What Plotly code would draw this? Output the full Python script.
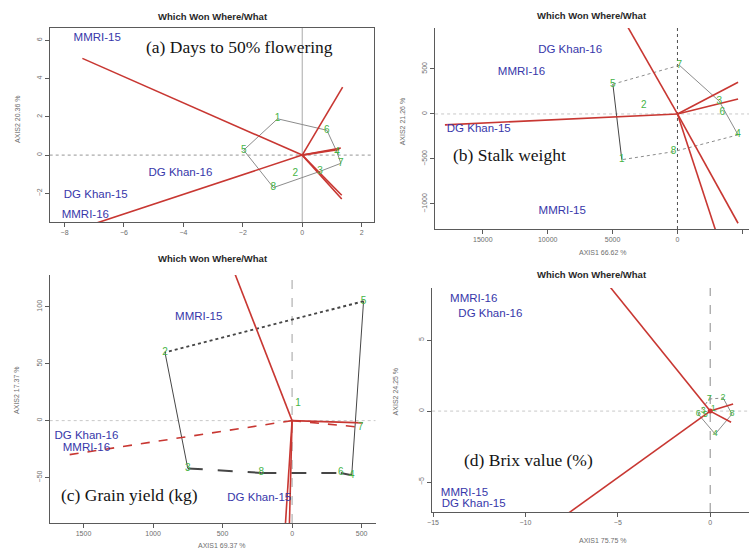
import plotly.graph_objects as go

W, H = 749, 557

# ---------------- data ----------------
genotypes = ["1", "2", "3", "4", "5", "6", "7", "8"]

# (a) Days to 50% flowering
a_gx = [-0.83, -0.23, 0.60, 1.17, -1.97, 0.83, 1.30, -0.97]
a_gy = [1.90, -0.95, -0.85, 0.16, 0.26, 1.30, -0.43, -1.70]
a_hull = ["1", "6", "4", "7", "3", "8", "5", "1"]
a_dash = ["solid"] * 7
a_env = ["MMRI-15", "DG Khan-16", "DG Khan-15", "MMRI-16"]
a_ex = [-6.9, -4.1, -6.95, -7.3]
a_ey = [6.1, -0.93, -2.1, -3.15]
a_rx = [-7.4, -7.6, 1.36, 1.30, 1.25, 1.33, 1.33]
a_ry = [5.06, -3.9, 3.56, 0.37, 0.30, -2.1, -2.3]

# (b) Stalk weight
b_gx = [4288, 2600, -3216, -4670, 4977, -3445, -150, 306]
b_gy = [-508, 99, 143, -232, 331, 11, 541, -419]
b_hull = ["7", "3", "4", "8", "1", "5", "7"]
b_dash = ["solid", "solid", "dot", "dot", "solid", "dot"]
b_env = ["DG Khan-16", "MMRI-16", "DG Khan-15", "MMRI-15"]
b_ex = [8270, 12020, 15310, 8880]
b_ey = [706, 464, -165, -1082]
b_rx = [17920, 4200, -4670, -4670, -4670, -3000]
b_ry = [-121, 1060, 353, 166, -1214, -1320]

# (c) Grain yield (kg)
c_gx = [-43, 914, 750, -429, -514, -350, -493, 221]
c_gy = [15, 60, -42, -48, 105, -46, -6, -46]
c_hull = ["5", "2", "3", "8", "6", "4", "5"]
c_dash = ["dot", "solid", "longdash", "longdash", "longdash", "solid"]
c_env = ["MMRI-15", "DG Khan-16", "MMRI-16", "DG Khan-15"]
c_ex = [671, 1479, 1479, 236]
c_ey = [91, -14, -24, -68]
c_rx = [430, 1657, -507, -507, 50, 20]
c_ry = [135, -31, -2, -6, -95, -95]

# (d) Brix value (%)
d_gx = [0.16, 0.70, -0.38, 0.27, -0.27, -0.65, -0.05, 1.18]
d_gy = [0.14, 0.92, 0.00, -1.62, -0.28, -0.21, 0.85, -0.21]
d_hull = ["7", "2", "8", "4", "6", "7"]
d_dash = ["dot", "solid", "solid", "solid", "dot"]
d_env = ["MMRI-16", "DG Khan-16", "MMRI-15", "DG Khan-15"]
d_ex = [-12.8, -11.9, -13.3, -12.8]
d_ey = [7.9, 6.8, -5.8, -6.55]
d_rx = [-5.4, -7.8, 1.24, 1.13]
d_ry = [8.7, -7.3, 0.50, -0.78]

# ---------------- figure ----------------
RED = "rgb(200,55,50)"
GREEN = "rgb(70,180,70)"
BLUE = "rgb(55,55,170)"
GRAY = "rgb(140,140,140)"
DARK = "rgb(70,70,70)"
SANS = "Liberation Sans, Arial, sans-serif"
SERIF = "Liberation Serif, Times New Roman, serif"

fig = go.Figure()


def px2x(p):
    return p / W


def px2y(p):
    return 1 - p / H


def add_panel(k, gx, gy, hull, dashes, hull_colors, env, ex, ey, rx, ry,
              red_dash=None, gsize=10):
    xa = "x" if k == 1 else f"x{k}"
    ya = "y" if k == 1 else f"y{k}"
    pos = {g: (x, y) for g, x, y in zip(genotypes, gx, gy)}
    for i in range(len(hull) - 1):
        p0, p1 = pos[hull[i]], pos[hull[i + 1]]
        col, wid = hull_colors[i]
        fig.add_trace(go.Scatter(x=[p0[0], p1[0]], y=[p0[1], p1[1]], mode="lines",
                                 line=dict(color=col, width=wid, dash=dashes[i]),
                                 xaxis=xa, yaxis=ya, hoverinfo="skip", showlegend=False))
    for i, (x, y) in enumerate(zip(rx, ry)):
        dsh = red_dash[i] if red_dash else "solid"
        fig.add_trace(go.Scatter(x=[0, x], y=[0, y], mode="lines",
                                 line=dict(color=RED, width=1.6, dash=dsh),
                                 xaxis=xa, yaxis=ya, hoverinfo="skip", showlegend=False))
    fig.add_trace(go.Scatter(x=gx, y=gy, mode="text", text=genotypes,
                             textfont=dict(color=GREEN, size=gsize, family=SANS),
                             xaxis=xa, yaxis=ya, showlegend=False, cliponaxis=False))
    fig.add_trace(go.Scatter(x=ex, y=ey, mode="text", text=env,
                             textfont=dict(color=BLUE, size=11.5, family=SANS),
                             xaxis=xa, yaxis=ya, showlegend=False, cliponaxis=False))


G1 = (GRAY, 1)
add_panel(1, a_gx, a_gy, a_hull, a_dash, [G1] * 7, a_env, a_ex, a_ey, a_rx, a_ry)
add_panel(2, b_gx, b_gy, b_hull, b_dash,
          [G1, G1, G1, G1, (DARK, 1), G1], b_env, b_ex, b_ey, b_rx, b_ry)
add_panel(3, c_gx, c_gy, c_hull, c_dash,
          [(DARK, 2), (DARK, 1), (DARK, 2), (DARK, 2), (DARK, 2), (DARK, 1)],
          c_env, c_ex, c_ey, c_rx, c_ry,
          red_dash=["solid", "dash", "solid", "dash", "solid", "solid"])
add_panel(4, d_gx, d_gy, d_hull, d_dash, [G1] * 5, d_env, d_ex, d_ey, d_rx, d_ry, gsize=9)

fig.add_trace(go.Scatter(x=[0], y=[0], mode="markers", marker=dict(color=RED, size=5),
                         xaxis="x4", yaxis="y4", showlegend=False))

tickfont = dict(size=7, color="rgb(110,110,110)", family=SANS)


def axis(domain, rng, tickvals, anchor, ticktext=None, mirror=False, angle=None):
    d = dict(domain=domain, range=rng, tickvals=tickvals, showgrid=False, zeroline=False,
             showline=True, linecolor="rgb(90,90,90)", linewidth=1, ticks="outside",
             ticklen=4, tickcolor="rgb(90,90,90)", tickfont=tickfont, mirror=mirror,
             anchor=anchor)
    if ticktext is not None:
        d["ticktext"] = ticktext
    if angle is not None:
        d["tickangle"] = angle
    return d


fig.update_layout(
    width=W, height=H, margin=dict(l=0, r=0, t=0, b=0),
    paper_bgcolor="white", plot_bgcolor="white", showlegend=False,
    xaxis=axis([px2x(45), px2x(371)], [-8.5, 2.4], [-8, -6, -4, -2, 0, 2], "y", mirror=True),
    yaxis=axis([px2y(222), px2y(28)], [-3.5, 6.65], [-2, 0, 2, 4, 6], "x", mirror=True, angle=-90),
    xaxis2=axis([px2x(433), 1.0], [18675, -5513], [15000, 10000, 5000, 0, -5000], "y2",
                ["15000", "10000", "5000", "0", "5000"]),
    yaxis2=axis([px2y(229), px2y(28)], [-1278, 955], [-1000, -500, 0, 500], "x2", angle=-90),
    xaxis3=axis([px2x(45), px2x(373)], [1743, -600], [1500, 1000, 500, 0, -500], "y3",
                ["1500", "1000", "500", "0", "500"]),
    yaxis3=axis([px2y(523), px2y(275)], [-90, 128], [-50, 0, 50, 100], "x3", angle=-90),
    xaxis4=axis([px2x(430), 1.0], [-15.05, 2.1], [-15, -10, -5, 0], "y4"),
    yaxis4=axis([px2y(512), px2y(288)], [-7.1, 8.66], [-5, 0, 5], "x4", angle=-90),
)

shapes = []
for k, (vdash, vcol), (hdash, hcol) in [
    (1, ("solid", "rgb(170,170,170)"), ("dot", "rgb(150,150,150)")),
    (2, ("dot", "rgb(80,80,80)"), ("dot", "rgb(200,200,200)")),
    (3, ("dash", "rgb(160,160,160)"), ("dot", "rgb(200,200,200)")),
    (4, ("dash", "rgb(140,140,140)"), ("dot", "rgb(200,200,200)")),
]:
    xr = "x" if k == 1 else f"x{k}"
    yr = "y" if k == 1 else f"y{k}"
    shapes.append(dict(type="line", xref=xr, yref=f"{yr} domain", x0=0, x1=0, y0=0, y1=1,
                       line=dict(color=vcol, width=1, dash=vdash), layer="below"))
    shapes.append(dict(type="line", xref=f"{xr} domain", yref=yr, x0=0, x1=1, y0=0, y1=0,
                       line=dict(color=hcol, width=1, dash=hdash), layer="below"))
fig.update_layout(shapes=shapes)

ann = []


def add_text(txt, x, y, font, angle=0):
    ann.append(dict(text=txt, x=px2x(x), y=px2y(y), xref="paper", yref="paper",
                    xanchor="center", yanchor="middle", showarrow=False,
                    textangle=angle, font=font))


title = "Which Won Where/What"
for (x, y) in [(209, 17), (591, 16), (209, 258), (591, 275)]:
    add_text(f"<b>{title}</b>", x, y, dict(size=9.5, color="rgb(40,40,40)", family=SANS))
for (txt, x, y) in [("(a) Days to 50% flowering", 236, 47), ("(b) Stalk weight", 508, 155),
                    ("(c) Grain yield (kg)", 125, 495), ("(d) Brix value (%)", 527, 460)]:
    add_text(txt, x, y, dict(size=17.5, color="rgb(20,20,20)", family=SERIF))
axfont = dict(size=7, color="rgb(110,110,110)", family=SANS)
for (txt, x, y) in [("AXIS2 20.36 %", 12, 119), ("AXIS2 21.26 %", 400, 122),
                    ("AXIS2 17.37 %", 11, 390), ("AXIS2 24.25 %", 393, 392)]:
    add_text(txt, x, y, axfont, angle=-90)
for (txt, x, y) in [("AXIS1 66.62 %", 602, 252), ("AXIS1 69.37 %", 218, 545),
                    ("AXIS1 75.75 %", 602, 540)]:
    add_text(txt, x, y, axfont)
fig.update_layout(annotations=ann)

fig.write_html("out.html", config={"displayModeBar": False},
               post_script="document.body.style.margin='0';")
